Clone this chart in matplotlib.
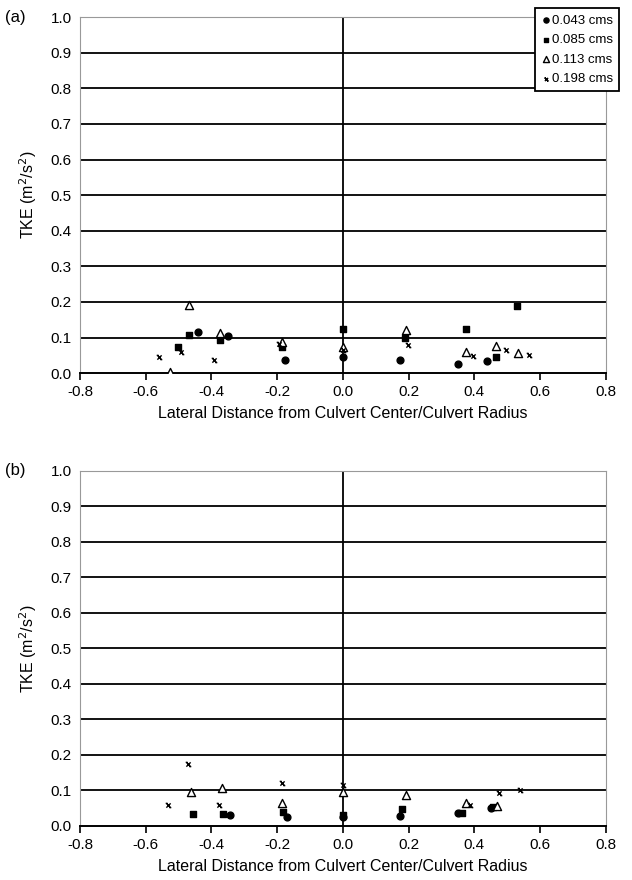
import matplotlib
matplotlib.use("Agg")
import matplotlib.pyplot as plt
import numpy as np
from matplotlib.path import Path

plt.rcParams['font.family'] = ['Liberation Sans', 'DejaVu Sans']
plt.rcParams['axes.unicode_minus'] = False

# panel (a) data: x = lateral distance / radius, y = TKE
a_q1_x = [-0.44, -0.35, -0.177, 0.0, 0.174, 0.349, 0.437]
a_q1_y = [0.115, 0.104, 0.038, 0.046, 0.036, 0.027, 0.035]
a_q2_x = [-0.503, -0.468, -0.374, -0.185, 0.0, 0.189, 0.376, 0.465, 0.53]
a_q2_y = [0.074, 0.107, 0.093, 0.074, 0.125, 0.10, 0.125, 0.046, 0.189]
a_q3_x = [-0.526, -0.468, -0.374, -0.185, 0.0, 0.191, 0.376, 0.467, 0.533]
a_q3_y = [0.004, 0.191, 0.112, 0.088, 0.072, 0.121, 0.060, 0.077, 0.056]
a_q4_x = [-0.559, -0.493, -0.391, -0.195, 0.0, 0.199, 0.396, 0.496, 0.566]
a_q4_y = [0.046, 0.058, 0.036, 0.083, 0.066, 0.080, 0.048, 0.066, 0.050]

# panel (b) data
b_q1_x = [-0.345, -0.171, 0.0, 0.173, 0.349, 0.452]
b_q1_y = [0.030, 0.024, 0.025, 0.028, 0.036, 0.052]
b_q2_x = [-0.455, -0.365, -0.182, 0.0, 0.181, 0.361, 0.457]
b_q2_y = [0.034, 0.033, 0.040, 0.031, 0.047, 0.037, 0.053]
b_q3_x = [-0.462, -0.369, -0.185, 0.0, 0.191, 0.376, 0.470]
b_q3_y = [0.096, 0.108, 0.064, 0.097, 0.087, 0.064, 0.057]
b_q4_x = [-0.533, -0.470, -0.376, -0.186, 0.0, 0.386, 0.475, 0.540]
b_q4_y = [0.058, 0.175, 0.058, 0.122, 0.114, 0.060, 0.092, 0.101]

labels = ['0.043 cms', '0.085 cms', '0.113 cms', '0.198 cms']
x_ticks = [-0.8, -0.6, -0.4, -0.2, 0.0, 0.2, 0.4, 0.6, 0.8]
y_ticks = [0.0, 0.1, 0.2, 0.3, 0.4, 0.5, 0.6, 0.7, 0.8, 0.9, 1.0]

# excel-like "star" marker: an X with short serifs on top and bottom
star = Path([(-1, -1), (1, 1), (-1, 1), (1, -1), (-1.3, 1), (-0.4, 1), (0.4, -1), (1.3, -1)],
            [Path.MOVETO, Path.LINETO, Path.MOVETO, Path.LINETO,
             Path.MOVETO, Path.LINETO, Path.MOVETO, Path.LINETO])

fig = plt.figure(figsize=(6.32, 8.8), dpi=100)
ax_a = fig.add_axes([0.1266, 0.576, 0.832, 0.4045])
ax_b = fig.add_axes([0.1266, 0.0614, 0.832, 0.4034])


def draw(ax, data, tag):
    ax.set_xlim(-0.8, 0.8)
    ax.set_ylim(0, 1.0)
    for y in y_ticks[1:-1]:
        ax.axhline(y, color='black', lw=1.3, zorder=1)
    ax.axvline(0, color='black', lw=1.3, zorder=1)
    for s in ['top', 'right', 'left']:
        ax.spines[s].set_color('#999999')
        ax.spines[s].set_linewidth(0.8)
    ax.spines['bottom'].set_color('black')
    ax.spines['bottom'].set_linewidth(1.4)
    (x1, y1), (x2, y2), (x3, y3), (x4, y4) = data
    ax.scatter(x1, y1, marker='o', s=24, color='black', zorder=3, label=labels[0])
    ax.scatter(x2, y2, marker='s', s=22, color='black', zorder=3, label=labels[1])
    ax.scatter(x3, y3, marker='^', s=34, facecolors='white', edgecolors='black',
               linewidths=1.0, zorder=3, label=labels[2])
    ax.scatter(x4, y4, marker=star, s=16, color='black', linewidths=1.0, zorder=3,
               label=labels[3])
    ax.set_xticks(x_ticks)
    ax.set_xticklabels(['%.1f' % v for v in x_ticks])
    ax.set_yticks(y_ticks)
    ax.set_yticklabels(['%.1f' % v for v in y_ticks])
    ax.tick_params(axis='x', direction='out', length=5, width=1.2, labelsize=11)
    ax.tick_params(axis='y', length=0, labelsize=11, pad=6)
    ax.set_xlabel('Lateral Distance from Culvert Center/Culvert Radius', fontsize=11.5, labelpad=5)
    ax.set_ylabel('TKE (m$^2$/s$^2$)', fontsize=11.5, labelpad=8)
    ax.text(-0.142, 1.0, tag, transform=ax.transAxes, fontsize=12, va='center', ha='left')


draw(ax_a, [(a_q1_x, a_q1_y), (a_q2_x, a_q2_y), (a_q3_x, a_q3_y), (a_q4_x, a_q4_y)], '(a)')
draw(ax_b, [(b_q1_x, b_q1_y), (b_q2_x, b_q2_y), (b_q3_x, b_q3_y), (b_q4_x, b_q4_y)], '(b)')

handles, labs = ax_a.get_legend_handles_labels()
leg = fig.legend(handles, labs, loc='upper right', bbox_to_anchor=(0.986, 0.995),
                 fontsize=9.5, frameon=True, fancybox=False, shadow=False,
                 handletextpad=0.05, handlelength=0.8, borderpad=0.45, labelspacing=0.55,
                 borderaxespad=0.3, markerscale=0.75)
leg.get_frame().set_edgecolor('black')
leg.get_frame().set_linewidth(1.3)
leg.get_frame().set_alpha(1)

fig.savefig('out.png', dpi=100)
